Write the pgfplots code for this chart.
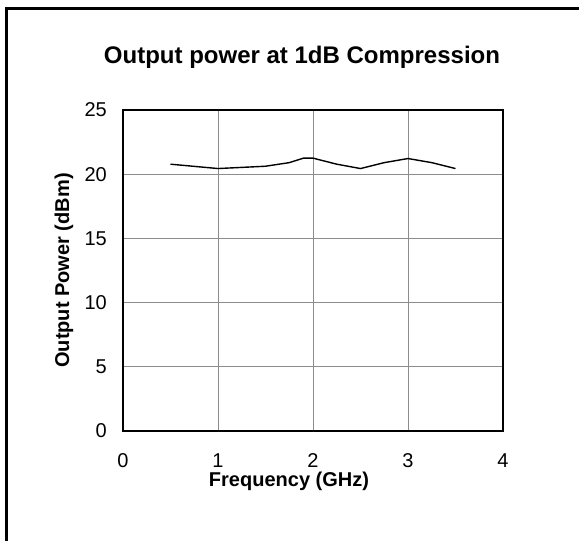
\documentclass[border=0pt]{standalone}
\usepackage{pgfplots}
\pgfplotsset{compat=1.18}
\usepackage{fontspec}
\setmainfont{Liberation Sans}
\begin{document}
\begin{tikzpicture}[x=1pt,y=1pt]
\path[use as bounding box] (0,0) rectangle (579,541);
\draw[line width=3pt,line cap=rect] (6.5,0) -- (6.5,532.5) -- (579,532.5);
\begin{axis}[
  at={(123pt,110pt)}, anchor=south west,
  width=380pt, height=321pt, scale only axis,
  xmin=0, xmax=4, ymin=0, ymax=25,
  xtick={0,1,2,3,4}, ytick={0,5,10,15,20,25},
  major tick length=0pt,
  grid=major,
  major grid style={gray!90, line width=0.9pt},
  axis line style={line width=1.8pt, black},
  /pgf/number format/assume math mode=true,
  tick label style={font=\fontsize{20}{22}\selectfont, inner sep=0pt},
  xticklabel style={anchor=center, yshift=-30pt},
  yticklabel style={anchor=east, xshift=-16pt},
  clip=false,
]
\addplot[black, line width=1.4pt] coordinates {
(0.5,20.78) (1.0,20.44) (1.5,20.62) (1.75,20.9) (1.9,21.25) (2.0,21.25)
(2.25,20.78) (2.5,20.44) (2.75,20.9) (3.0,21.22) (3.25,20.9) (3.5,20.44)
};
\end{axis}
\node[font=\bfseries\fontsize{24}{28}\selectfont, anchor=base] at (302,477) {Output power at 1dB Compression};
\node[font=\bfseries\fontsize{20}{24}\selectfont, anchor=base] at (289,54.3) {Frequency (GHz)};
\node[font=\bfseries\fontsize{20}{24}\selectfont, anchor=base, rotate=90] at (69,270.5) {Output Power (dBm)};
\end{tikzpicture}
\end{document}
